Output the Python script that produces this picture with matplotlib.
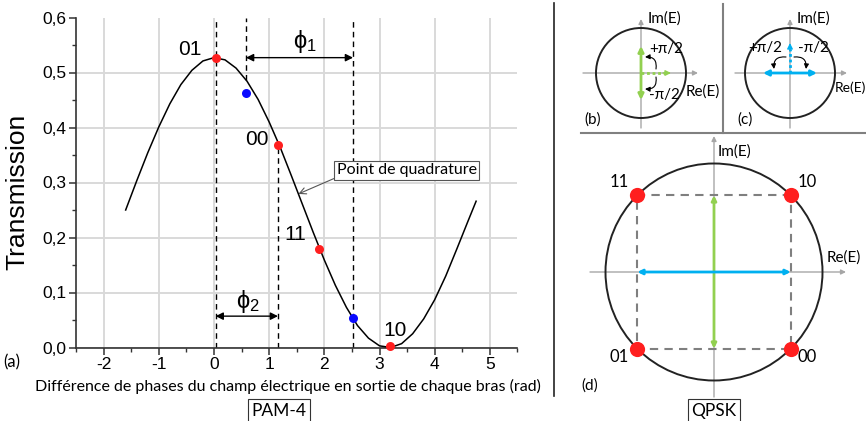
import numpy as np
import matplotlib.pyplot as plt
from matplotlib.patches import Circle, FancyArrowPatch
from matplotlib.ticker import MultipleLocator

plt.rcParams['font.family'] = ['Liberation Sans', 'DejaVu Sans']
plt.rcParams['mathtext.default'] = 'regular'

# courbe de transmission
phase = [-1.6, -1.4, -1.2, -1.0, -0.8, -0.6, -0.4, -0.2, 0.0, 0.2, 0.4, 0.6, 0.8,
         1.0, 1.2, 1.4, 1.6, 1.8, 2.0, 2.2, 2.4, 2.6, 2.8, 3.0, 3.2, 3.4, 3.6,
         3.8, 4.0, 4.2, 4.4, 4.6, 4.75]
transmission = [0.250, 0.303, 0.354, 0.401, 0.443, 0.478, 0.504, 0.521, 0.527,
                0.523, 0.508, 0.484, 0.451, 0.410, 0.364, 0.313, 0.261, 0.209,
                0.159, 0.113, 0.073, 0.040, 0.017, 0.003, 0.000, 0.007, 0.025,
                0.052, 0.087, 0.130, 0.179, 0.229, 0.266]

# symboles PAM-4 (points rouges)
sym_labels = ['01', '00', '11', '10']
sym_phase = [0.03, 1.16, 1.91, 3.19]
sym_T = [0.527, 0.368, 0.179, 0.003]

# points bleus
bleu_phase = [0.58, 2.52]
bleu_T = [0.463, 0.053]

xticks = [-2, -1, 0, 1, 2, 3, 4, 5]
yticks = [0.0, 0.1, 0.2, 0.3, 0.4, 0.5, 0.6]
ytick_labels = ['0,0', '0,1', '0,2', '0,3', '0,4', '0,5', '0,6']

# constellation QPSK
qpsk_labels = ['10', '11', '01', '00']
qpsk_angles = [45, 135, 225, 315]

VERT = '#92d050'
BLEU = '#00b0f0'
GRIS = '#a6a6a6'
CAL = ['Lato', 'DejaVu Sans']

W, H = 866, 421
fig = plt.figure(figsize=(W / 100, H / 100), dpi=100)


def boite(x0, y0, x1, y1):
    return [x0 / W, 1 - y1 / H, (x1 - x0) / W, (y1 - y0) / H]


# ---- (a) courbe PAM-4 ----
ax = fig.add_axes(boite(76, 17.5, 517.5, 347.5))
ax.plot(phase, transmission, color='k', lw=1.1, zorder=3)
ax.set_xlim(-2.5, 5.5)
ax.set_ylim(0, 0.6)
ax.set_xticks(xticks)
ax.set_xticklabels([str(v) for v in xticks])
ax.set_yticks(yticks)
ax.set_yticklabels(ytick_labels)
ax.xaxis.set_minor_locator(MultipleLocator(0.5))
ax.yaxis.set_minor_locator(MultipleLocator(0.05))
ax.grid(True, color='#d9d9d9', lw=1.4)
ax.set_axisbelow(True)
ax.yaxis.get_major_ticks()[-1].gridline.set_visible(False)
for s in ['top', 'right']:
    ax.spines[s].set_visible(False)
for s in ['left', 'bottom']:
    ax.spines[s].set_color('#333333')
    ax.spines[s].set_linewidth(1.2)
ax.tick_params(which='major', direction='out', length=5, width=1.1,
               labelsize=12.5, pad=2, color='#333333')
ax.tick_params(which='minor', direction='out', length=3, width=1.0, color='#333333')

tirets = (0, (4, 3))
courbe = lambda x: np.interp(x, phase, transmission)
ax.plot([sym_phase[0]] * 2, [0, 0.6], color='k', lw=1, ls=tirets, zorder=2)
ax.plot([bleu_phase[0]] * 2, [courbe(bleu_phase[0]), 0.6], color='k', lw=1, ls=tirets, zorder=2)
ax.plot([sym_phase[1]] * 2, [0, sym_T[1]], color='k', lw=1, ls=tirets, zorder=2)
ax.plot([bleu_phase[1]] * 2, [0, 0.6], color='k', lw=1, ls=tirets, zorder=2)

fleche = dict(arrowstyle='<|-|>', color='k', lw=1, mutation_scale=11, shrinkA=0, shrinkB=0)
ax.annotate('', xy=(bleu_phase[0], sym_T[0]), xytext=(bleu_phase[1], sym_T[0]), arrowprops=fleche)
ax.annotate('', xy=(sym_phase[0], 0.057), xytext=(sym_phase[1], 0.057), arrowprops=fleche)
ax.text(1.65, 0.556, 'ϕ$_1$', fontsize=17, ha='center', va='center')
ax.text(0.61, 0.083, 'ϕ$_2$', fontsize=17, ha='center', va='center')

ax.plot(sym_phase, sym_T, 'o', color='#ff1f1f', ms=6.5, mec='none', zorder=5, clip_on=False)
ax.plot(bleu_phase, bleu_T, 'o', color='#0a0aff', ms=6.5, mec='none', zorder=5, clip_on=False)
pos_lab = [(-0.44, 0.542), (0.77, 0.378), (1.47, 0.205), (3.29, 0.031)]
for lab, (x, y) in zip(sym_labels, pos_lab):
    ax.text(x, y, lab, fontsize=15, ha='center', va='center')

ax.annotate('Point de quadrature', xy=(1.53, courbe(1.53)), xytext=(3.49, 0.322),
            ha='center', va='center', fontsize=11.5, family=CAL,
            bbox=dict(boxstyle='square,pad=0.15', fc='white', ec='#555555', lw=0.8),
            arrowprops=dict(arrowstyle='->', color='#555555', lw=0.8,
                            shrinkA=0, shrinkB=0, relpos=(0, 0)), zorder=6)

# ---- calque en pixels pour les schémas ----
ov = fig.add_axes([0, 0, 1, 1])
ov.set_xlim(0, W)
ov.set_ylim(H, 0)
ov.axis('off')

ov.text(17, 192, 'Transmission', rotation=90, ha='center', va='center', fontsize=19)
ov.text(288, 386, 'Différence de phases du champ électrique en sortie de chaque bras (rad)',
        ha='center', va='center', fontsize=11.5, family=CAL)
ov.text(12, 362, '(a)', ha='center', va='center', fontsize=12, family=CAL)
cadre = dict(boxstyle='square,pad=0.22', fc='white', ec='#333333', lw=0.8)
ov.text(279, 411, 'PAM-4', ha='center', va='center', fontsize=12.5, family=CAL, bbox=cadre)
ov.text(714, 411, 'QPSK', ha='center', va='center', fontsize=12.5, family=CAL, bbox=cadre)

# séparations
ov.plot([554, 554], [3, 396], color='#222222', lw=1.2)
ov.plot([723, 723], [4, 133], color='#808080', lw=1.5)
ov.plot([581, 866], [133, 133], color='#808080', lw=1.5)


def fl(p0, p1, style='-|>', color=GRIS, lw=1.0, ms=7, **kw):
    ov.add_patch(FancyArrowPatch(p0, p1, arrowstyle=style, color=color, lw=lw,
                                 mutation_scale=ms, shrinkA=0, shrinkB=0, **kw))


def repere(cx, cy, r, gauche, droite, haut, bas):
    fl((gauche, cy), (droite, cy))
    fl((cx, bas), (cx, haut))
    ov.add_patch(Circle((cx, cy), r, fill=False, ec='#222222', lw=1.4, zorder=3))


# (b)
cx, cy = 641, 73
repere(cx, cy, 45, 583, 698, 19, 128)
fl((cx, 100), (cx, 46), style='<|-|>', color=VERT, lw=2, ms=8)
ov.plot([cx, cx + 24], [cy, cy], ls=(0, (1, 1)), color=VERT, lw=2)
fl((cx + 22, cy), (cx + 30, cy), color=VERT, lw=1, ms=8)
fl((cx + 15, cy - 4), (cx + 4, cy - 16), color='k', lw=0.8, ms=7, connectionstyle='arc3,rad=0.6')
fl((cx + 15, cy + 4), (cx + 4, cy + 16), color='k', lw=0.8, ms=7, connectionstyle='arc3,rad=-0.6')
ov.text(cx + 8, 49, '+π/2', ha='left', va='center', fontsize=11, family=CAL)
ov.text(cx + 8, 95, '-π/2', ha='left', va='center', fontsize=11, family=CAL)
ov.text(cx + 7, 19, 'Im(E)', ha='left', va='center', fontsize=11, family=CAL)
ov.text(686, 92, 'Re(E)', ha='left', va='center', fontsize=11, family=CAL)
ov.text(593, 120, '(b)', ha='center', va='center', fontsize=11, family=CAL)

# (c)
cx, cy = 790, 73
repere(cx, cy, 45, 735, 847, 19, 128)
fl((cx - 27, cy), (cx + 27, cy), style='<|-|>', color=BLEU, lw=2, ms=8)
ov.plot([cx, cx], [cy, cy - 24], ls=(0, (1, 1)), color=BLEU, lw=2)
fl((cx, cy - 22), (cx, cy - 30), color=BLEU, lw=1, ms=8)
fl((cx - 4, cy - 16), (cx - 16, cy - 4), color='k', lw=0.8, ms=7, connectionstyle='arc3,rad=0.6')
fl((cx + 4, cy - 16), (cx + 16, cy - 4), color='k', lw=0.8, ms=7, connectionstyle='arc3,rad=-0.6')
ov.text(cx - 8, 48, '+π/2', ha='right', va='center', fontsize=11, family=CAL)
ov.text(cx + 8, 48, '-π/2', ha='left', va='center', fontsize=11, family=CAL)
ov.text(cx + 7, 19, 'Im(E)', ha='left', va='center', fontsize=11, family=CAL)
ov.text(835, 88, 'Re(E)', ha='left', va='center', fontsize=10, family=CAL)
ov.text(745, 120, '(c)', ha='center', va='center', fontsize=11, family=CAL)

# (d) QPSK
cx, cy, r = 714, 272, 108.5
repere(cx, cy, r, 590, 846, 136, 397)
ang = np.radians(qpsk_angles)
px = cx + r * np.cos(ang)
py = cy - r * np.sin(ang)
ov.plot(np.append(px, px[0]), np.append(py, py[0]), color='#7f7f7f', lw=1.5,
        ls=(0, (4, 3)), zorder=2)
fl((cx, py.max()), (cx, py.min()), style='<|-|>', color=VERT, lw=2, ms=7)
fl((px.min(), cy), (px.max(), cy), style='<|-|>', color=BLEU, lw=2, ms=7)
ov.scatter(px, py, s=120, color='#ff1f1f', zorder=5, linewidths=0)
for lab, x, y in zip(qpsk_labels, px, py):
    dx = 16 if x > cx else -18
    dy = -13 if y < cy else 8
    ov.text(x + dx, y + dy, lab, ha='center', va='center', fontsize=12, family=CAL)
ov.text(cx + 4, 152, 'Im(E)', ha='left', va='center', fontsize=11, family=CAL)
ov.text(827, 258, 'Re(E)', ha='left', va='center', fontsize=11, family=CAL)
ov.text(590, 386, '(d)', ha='center', va='center', fontsize=11, family=CAL)

fig.savefig('out.png', dpi=100)
